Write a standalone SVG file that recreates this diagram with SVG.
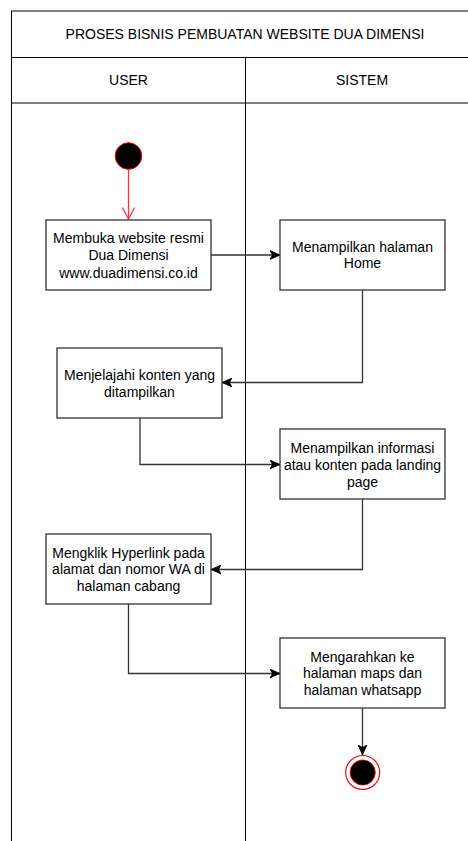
<svg xmlns="http://www.w3.org/2000/svg" width="468" height="841" viewBox="0 0 468 841">
<style>
.t{font-family:"Liberation Sans",Arial,sans-serif;font-size:14px;fill:#000;text-anchor:middle}
.box{fill:#fff;stroke:#333;stroke-width:1.3}
.pool{fill:none;stroke:#000;stroke-width:1}
.edge{fill:none;stroke:#333;stroke-width:1.3}
</style>
<defs>
<marker id="arr" markerUnits="userSpaceOnUse" markerWidth="10" markerHeight="10" viewBox="0 0 10 10" refX="10" refY="5" orient="auto">
<path d="M0,0.6 L10,5 L0,9.4 L2.5,5 Z" fill="#000" stroke="#000" stroke-width="0.8"/>
</marker>
<marker id="open" markerUnits="userSpaceOnUse" markerWidth="16" markerHeight="16" viewBox="0 0 16 16" refX="14" refY="8" orient="auto">
<path d="M2.5,1.8 L14,8 L2.5,14.2" fill="none" stroke="#ff3333" stroke-width="1.3"/>
</marker>
</defs>
<rect width="468" height="841" fill="#fff"/>
<g id="pool">
<rect class="pool" x="11.5" y="11" width="470" height="900" stroke="#555" stroke-width="1.6"/>
<line class="pool" x1="11.5" y1="57.5" x2="482" y2="57.5" stroke="#444" stroke-width="1.5"/>
<line class="pool" x1="11.5" y1="103" x2="482" y2="103" stroke="#444" stroke-width="1.5"/>
<line class="pool" x1="245.5" y1="57.5" x2="245.5" y2="841"/>
<text class="t" x="245" y="39">PROSES BISNIS PEMBUATAN WEBSITE DUA DIMENSI</text>
<text class="t" x="128.5" y="85">USER</text>
<text class="t" x="362" y="85">SISTEM</text>
</g>
<g id="edges">
<line x1="128.5" y1="170" x2="128.5" y2="219" fill="none" stroke="#ff3333" stroke-width="1.3" marker-end="url(#open)"/>
<path class="edge" d="M211,255 L280,255" marker-end="url(#arr)"/>
<path class="edge" d="M362.5,290 L362.5,382.5 L222,382.5" marker-end="url(#arr)"/>
<path class="edge" d="M140,418 L140,464.5 L280,464.5" marker-end="url(#arr)"/>
<path class="edge" d="M362.5,499 L362.5,569.5 L211,569.5" marker-end="url(#arr)"/>
<path class="edge" d="M128.5,604 L128.5,673.5 L280,673.5" marker-end="url(#arr)"/>
<path class="edge" d="M362.5,708 L362.5,755" marker-end="url(#arr)"/>
</g>
<g id="start">
<circle cx="128.5" cy="156" r="13.3" fill="#000" stroke="#ff0000" stroke-width="1"/>
</g>
<g id="n1">
<rect class="box" x="46" y="220" width="165" height="70"/>
<text class="t" x="128.5" y="243.3">Membuka website resmi</text>
<text class="t" x="128.5" y="260">Dua Dimensi</text>
<text class="t" x="128.5" y="277.7">www.duadimensi.co.id</text>
</g>
<g id="n2">
<rect class="box" x="280" y="220" width="165" height="70"/>
<text class="t" x="362.5" y="251.7">Menampilkan halaman</text>
<text class="t" x="362.5" y="268.3">Home</text>
</g>
<g id="n3">
<rect class="box" x="57" y="348" width="165" height="70"/>
<text class="t" x="139.5" y="380">Menjelajahi konten yang</text>
<text class="t" x="139.5" y="396.7">ditampilkan</text>
</g>
<g id="n4">
<rect class="box" x="280" y="429" width="165" height="70"/>
<text class="t" x="362.5" y="453.3">Menampilkan informasi</text>
<text class="t" x="362.5" y="469.5">atau konten pada landing</text>
<text class="t" x="362.5" y="486.7">page</text>
</g>
<g id="n5">
<rect class="box" x="46" y="534" width="165" height="70"/>
<text class="t" x="128.5" y="557.7">Mengklik Hyperlink pada</text>
<text class="t" x="128.5" y="574.3">alamat dan nomor WA di</text>
<text class="t" x="128.5" y="591">halaman cabang</text>
</g>
<g id="n6">
<rect class="box" x="280" y="638" width="165" height="70"/>
<text class="t" x="362.5" y="661.7">Mengarahkan ke</text>
<text class="t" x="362.5" y="678.3">halaman maps dan</text>
<text class="t" x="362.5" y="695">halaman whatsapp</text>
</g>
<g id="end">
<circle cx="362.7" cy="772.5" r="17" fill="#fff" stroke="#ff0000" stroke-width="1.2"/>
<circle cx="362.7" cy="772.5" r="12.6" fill="#000" stroke="#ff0000" stroke-width="0.8"/>
</g>
</svg>
